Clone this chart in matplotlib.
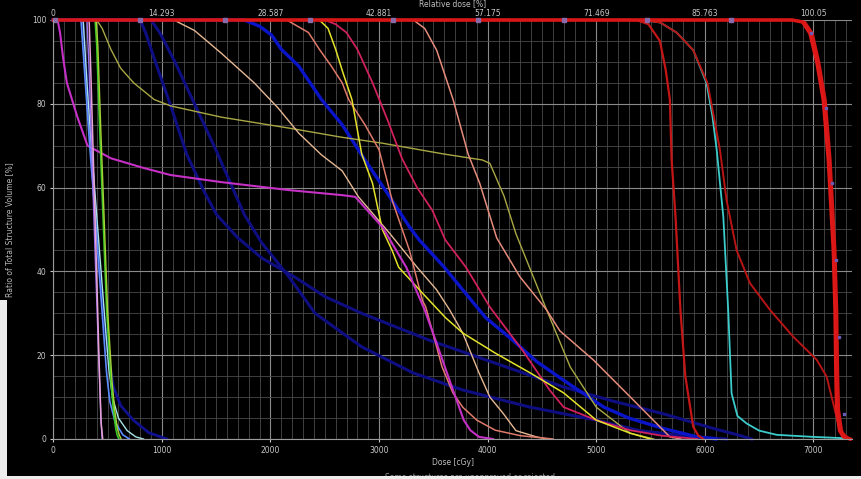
import matplotlib
matplotlib.use("Agg")
import matplotlib.pyplot as plt
from matplotlib.patches import Rectangle
from matplotlib.ticker import MultipleLocator

# --- data (dose in cGy, volume in %) ---
dose_ticks = [0, 1000, 2000, 3000, 4000, 5000, 6000, 7000]
rel_labels = ["0", "14.293", "28.587", "42.881", "57.175", "71.469", "85.763", "100.05"]
vol_ticks = [0, 20, 40, 60, 80, 100]

navy1_dose = [0, 800, 850, 940, 1075, 1228, 1390, 1505, 1700, 1920, 2220, 2500, 2840, 3460, 4070, 4700, 5160, 5620, 6080, 6300, 6430]
navy1_vol = [100, 100, 97, 90, 80, 68, 59, 53.5, 48, 43.2, 38.7, 34, 30, 23.6, 18.1, 12.4, 9, 6, 2.5, 1, 0]

navy2_dose = [0, 900, 980, 1120, 1300, 1480, 1650, 1760, 1920, 2170, 2410, 2840, 3310, 3770, 4390, 5000, 5400, 5900, 6200]
navy2_vol = [100, 100, 97, 90, 80, 70, 60, 53.5, 46.8, 38.7, 30, 22, 15.8, 11.7, 7.6, 4.5, 2, 0.5, 0]

navy0_dose = [0, 270, 310, 360, 420, 470, 520, 553, 620, 737, 880, 1045]
navy0_vol = [100, 100, 85, 65, 42, 28, 18, 12.5, 8, 4.5, 1.5, 0]

blue_dose = [0, 1760, 1900, 2010, 2100, 2260, 2470, 2660, 2870, 3080, 3280, 3370, 3600, 3770, 3980, 4230, 4450, 4700, 5070, 5300, 5620, 5930, 6100]
blue_vol = [100, 100, 98.5, 96.4, 93, 89, 81, 75, 66.6, 58.5, 50.6, 47.5, 41, 35.6, 29, 23.6, 18.5, 14, 7.6, 5, 2.5, 0.5, 0]

magenta_dose = [0, 40, 62, 90, 125, 220, 315, 530, 830, 1080, 1550, 2170, 2660, 2780, 3030, 3250, 3420, 3520, 3680, 3780, 3840, 3920, 4050]
magenta_vol = [100, 100, 97, 91, 85, 77, 70, 67, 64.7, 63, 61.3, 59.4, 58.2, 57.8, 50.6, 41, 30.8, 23.6, 11.7, 4.5, 2.1, 0.5, 0]

olive_dose = [0, 400, 450, 530, 620, 740, 930, 1080, 1550, 2170, 2660, 3030, 3600, 3950, 4020, 4150, 4260, 4400, 4540, 4760, 5000, 5310, 5530]
olive_vol = [100, 100, 98, 93, 88.5, 85, 81, 79.5, 76.8, 74.2, 72, 70.6, 68, 66.6, 65.8, 58, 49, 40, 31, 17.2, 7.6, 1.4, 0]

wheat_dose = [0, 1110, 1300, 1550, 1850, 2070, 2260, 2470, 2660, 2810, 3100, 3350, 3530, 3650, 3770, 3920, 4020, 4140, 4260, 4450, 4550]
wheat_vol = [100, 100, 97.5, 92, 85, 79, 73, 67.8, 64, 57.8, 49, 41, 35.6, 30.8, 25.3, 15.8, 10, 6.2, 2, 0.5, 0]

coral1_dose = [0, 2150, 2350, 2450, 2560, 2660, 2720, 2870, 3000, 3120, 3280, 3400, 3430, 3580, 3680, 3770, 3900, 4070, 4300, 4600]
coral1_vol = [100, 100, 97, 93, 89, 85, 81, 75, 69, 57, 45, 33, 31.5, 17.2, 11, 7.6, 4.5, 2.1, 0.8, 0]

coral2_dose = [0, 3316, 3420, 3530, 3683, 3820, 3927, 4083, 4297, 4543, 4665, 4972, 5280, 5525, 5678, 5780]
coral2_vol = [100, 100, 98, 92.8, 80.9, 68, 61, 48, 38.7, 30.8, 25.8, 18.9, 10.9, 4.5, 0.5, 0]

yellow_dose = [0, 2450, 2530, 2600, 2660, 2750, 2840, 2940, 3030, 3120, 3180, 3400, 3610, 3770, 4070, 4390, 4700, 5000, 5310, 5500]
yellow_vol = [100, 100, 98, 93, 88, 81, 68, 61, 50, 45, 41, 34.8, 29, 25.3, 20.5, 15.8, 11, 4.5, 1.4, 0]

crimson_dose = [0, 2500, 2600, 2700, 2800, 2940, 3080, 3210, 3350, 3490, 3610, 3800, 4020, 4320, 4570, 4700, 5000, 5310, 5600, 5930]
crimson_vol = [100, 100, 99, 97, 93, 85, 76, 67, 60, 54.6, 47.5, 41, 31.5, 21.2, 11.7, 7.6, 4.5, 2.1, 0.8, 0]

lblue_dose = [0, 255, 295, 335, 395, 450, 490, 520, 570, 640, 700]
lblue_vol = [100, 100, 85, 70, 50, 30, 16, 9, 4, 1, 0]

pale_dose = [0, 275, 310, 350, 410, 470, 510, 545, 600, 680, 760, 830]
pale_vol = [100, 100, 85, 70, 50, 30, 17, 10, 5, 2, 0.5, 0]

violet_dose = [0, 310, 330, 380, 420, 440, 450]
violet_vol = [100, 100, 88, 48, 18, 4, 0]

pink_dose = [0, 330, 345, 390, 420, 440, 455]
pink_vol = [100, 100, 88, 48, 20, 4, 0]

green_dose = [0, 385, 400, 430, 491, 530, 553, 575, 590, 605]
green_vol = [100, 100, 94, 72, 30.8, 14, 7, 2.5, 0.8, 0]

ygreen_dose = [0, 395, 410, 440, 500, 540, 565, 590, 610, 625]
ygreen_vol = [100, 100, 94, 72, 30.8, 14, 7, 2.5, 0.8, 0]

red1_dose = [0, 5370, 5480, 5586, 5640, 5678, 5694, 5730, 5775, 5820, 5893, 5940, 5985]
red1_vol = [100, 100, 99, 95, 88, 81, 66.6, 53, 30.8, 15, 2.9, 0.8, 0]

cyan_dose = [0, 5430, 5590, 5740, 5893, 6016, 6070, 6109, 6170, 6215, 6246, 6300, 6385, 6500, 6661, 7000, 7274, 7320]
cyan_vol = [100, 100, 99.4, 97, 92.8, 84.9, 77, 69, 53, 30.8, 10.9, 5.5, 3.7, 2, 1, 0.5, 0.2, 0]

red2_dose = [0, 5430, 5590, 5740, 5893, 6025, 6139, 6200, 6293, 6415, 6600, 6814, 7030, 7121, 7182, 7243, 7335]
red2_vol = [100, 100, 99.4, 97, 92.8, 84.9, 69, 57, 45, 37.2, 30.8, 24.4, 18.9, 14.9, 8.5, 2.1, 0]

ptv1_dose = [0, 6800, 6900, 6967, 7030, 7090, 7136, 7182, 7198, 7206, 7213, 7240, 7274, 7335]
ptv1_vol = [100, 100, 99.5, 96.8, 90, 80.9, 66.6, 45, 30.8, 15, 6.9, 2, 0.5, 0]

ptv2_dose = [0, 6820, 6920, 6990, 7050, 7110, 7155, 7200, 7216, 7225, 7233, 7260, 7290, 7345]
ptv2_vol = [100, 100, 99.5, 96.8, 90, 80.9, 66.6, 45, 30.8, 15, 6.9, 2, 0.5, 0]

top_marker_dose = [15, 800, 1580, 2360, 3130, 3915, 4700, 5470, 6245]
ptv_marker_dose = [6974, 7112, 7174, 7205, 7237, 7281]
ptv_marker_vol = [96.8, 79.1, 61, 42.7, 24.4, 6]

W, H = 862, 479
fig = plt.figure(figsize=(W / 100, H / 100), dpi=100, facecolor="black")
ax = fig.add_axes([53.3 / W, 1 - 439 / H, (852 - 53.3) / W, (439 - 20) / H])
ax.set_facecolor("black")
ax.set_xlim(0, 7355)
ax.set_ylim(0, 100)

ax.xaxis.set_minor_locator(MultipleLocator(100))
ax.yaxis.set_minor_locator(MultipleLocator(5))
ax.grid(which="minor", color="#4a4a4a", lw=0.6)
ax.grid(which="major", color="#8a8a8a", lw=0.8)
ax.set_axisbelow(True)
ax.set_xticks(dose_ticks)
ax.set_yticks(vol_ticks)
ax.tick_params(which="major", colors="#c8c8c8", labelsize=5.5, length=2, pad=3)
ax.tick_params(which="minor", length=0)
for side in ["top", "right"]:
    ax.spines[side].set_visible(False)
for side in ["left", "bottom"]:
    ax.spines[side].set_color("#9a9a9a")

# relative dose axis on top
ax2 = ax.twiny()
ax2.set_xlim(ax.get_xlim())
ax2.set_xticks(dose_ticks)
ax2.set_xticklabels(rel_labels)
ax2.tick_params(colors="#c8c8c8", labelsize=5.5, length=0, pad=1.5)
for side in ax2.spines:
    ax2.spines[side].set_visible(False)

ax.set_xlabel("Dose [cGy]", color="#c0c0c0", fontsize=5.5, labelpad=2)
ax.set_ylabel("Ratio of Total Structure Volume [%]", color="#b8b8b8", fontsize=5.5, labelpad=13)
ax2.set_xlabel("Relative dose [%]", color="#c0c0c0", fontsize=5.5, labelpad=2)

curves = [
    (navy1_dose, navy1_vol, "#0e0e82", 2.2),
    (navy2_dose, navy2_vol, "#0e0e82", 2.2),
    (navy0_dose, navy0_vol, "#10108e", 2.0),
    (blue_dose, blue_vol, "#0a14c8", 2.4),
    (olive_dose, olive_vol, "#aaa844", 1.0),
    (wheat_dose, wheat_vol, "#e6b894", 1.0),
    (coral1_dose, coral1_vol, "#e07a6a", 1.1),
    (coral2_dose, coral2_vol, "#e68c7c", 1.1),
    (crimson_dose, crimson_vol, "#d0205e", 1.3),
    (yellow_dose, yellow_vol, "#e4e22a", 1.1),
    (magenta_dose, magenta_vol, "#c630c6", 1.5),
    (lblue_dose, lblue_vol, "#5c8cff", 1.2),
    (pale_dose, pale_vol, "#a8e4e4", 1.0),
    (violet_dose, violet_vol, "#9a70f0", 1.0),
    (pink_dose, pink_vol, "#e8a2d6", 1.1),
    (green_dose, green_vol, "#3cc828", 1.2),
    (ygreen_dose, ygreen_vol, "#a6d234", 1.0),
    (cyan_dose, cyan_vol, "#3ccccc", 1.3),
    (red1_dose, red1_vol, "#c41616", 1.6),
    (red2_dose, red2_vol, "#b81414", 1.4),
    (ptv1_dose, ptv1_vol, "#e01818", 2.4),
    (ptv2_dose, ptv2_vol, "#d81616", 2.0),
]
for d, v, c, lw in curves:
    ax.plot(d, v, color=c, lw=lw, solid_joinstyle="round", clip_on=False)

ax.plot(top_marker_dose, [100] * len(top_marker_dose), ls="none", marker="s",
        ms=3, color="#8a6aa8", clip_on=False)
ax.plot(ptv_marker_dose, ptv_marker_vol, ls="none", marker="s", ms=2,
        color="#6a5ab8", clip_on=False)

# footer note, partly hidden by the page border as in the screenshot
fig.text(470 / W, 1 - 473 / H, "Some structures are unapproved or rejected",
         color="#9a9a9a", fontsize=5.5, ha="center", va="top")

# light page border visible at the left and bottom of the screenshot
fig.patches.append(Rectangle((0, 0), 1, 3.5 / H, transform=fig.transFigure,
                             facecolor="#ededed", edgecolor="none", zorder=10))
fig.patches.append(Rectangle((0, 0), 7.5 / W, 1 - 300 / H, transform=fig.transFigure,
                             facecolor="#ededed", edgecolor="none", zorder=10))

fig.savefig("out.png", dpi=100, facecolor="black")
